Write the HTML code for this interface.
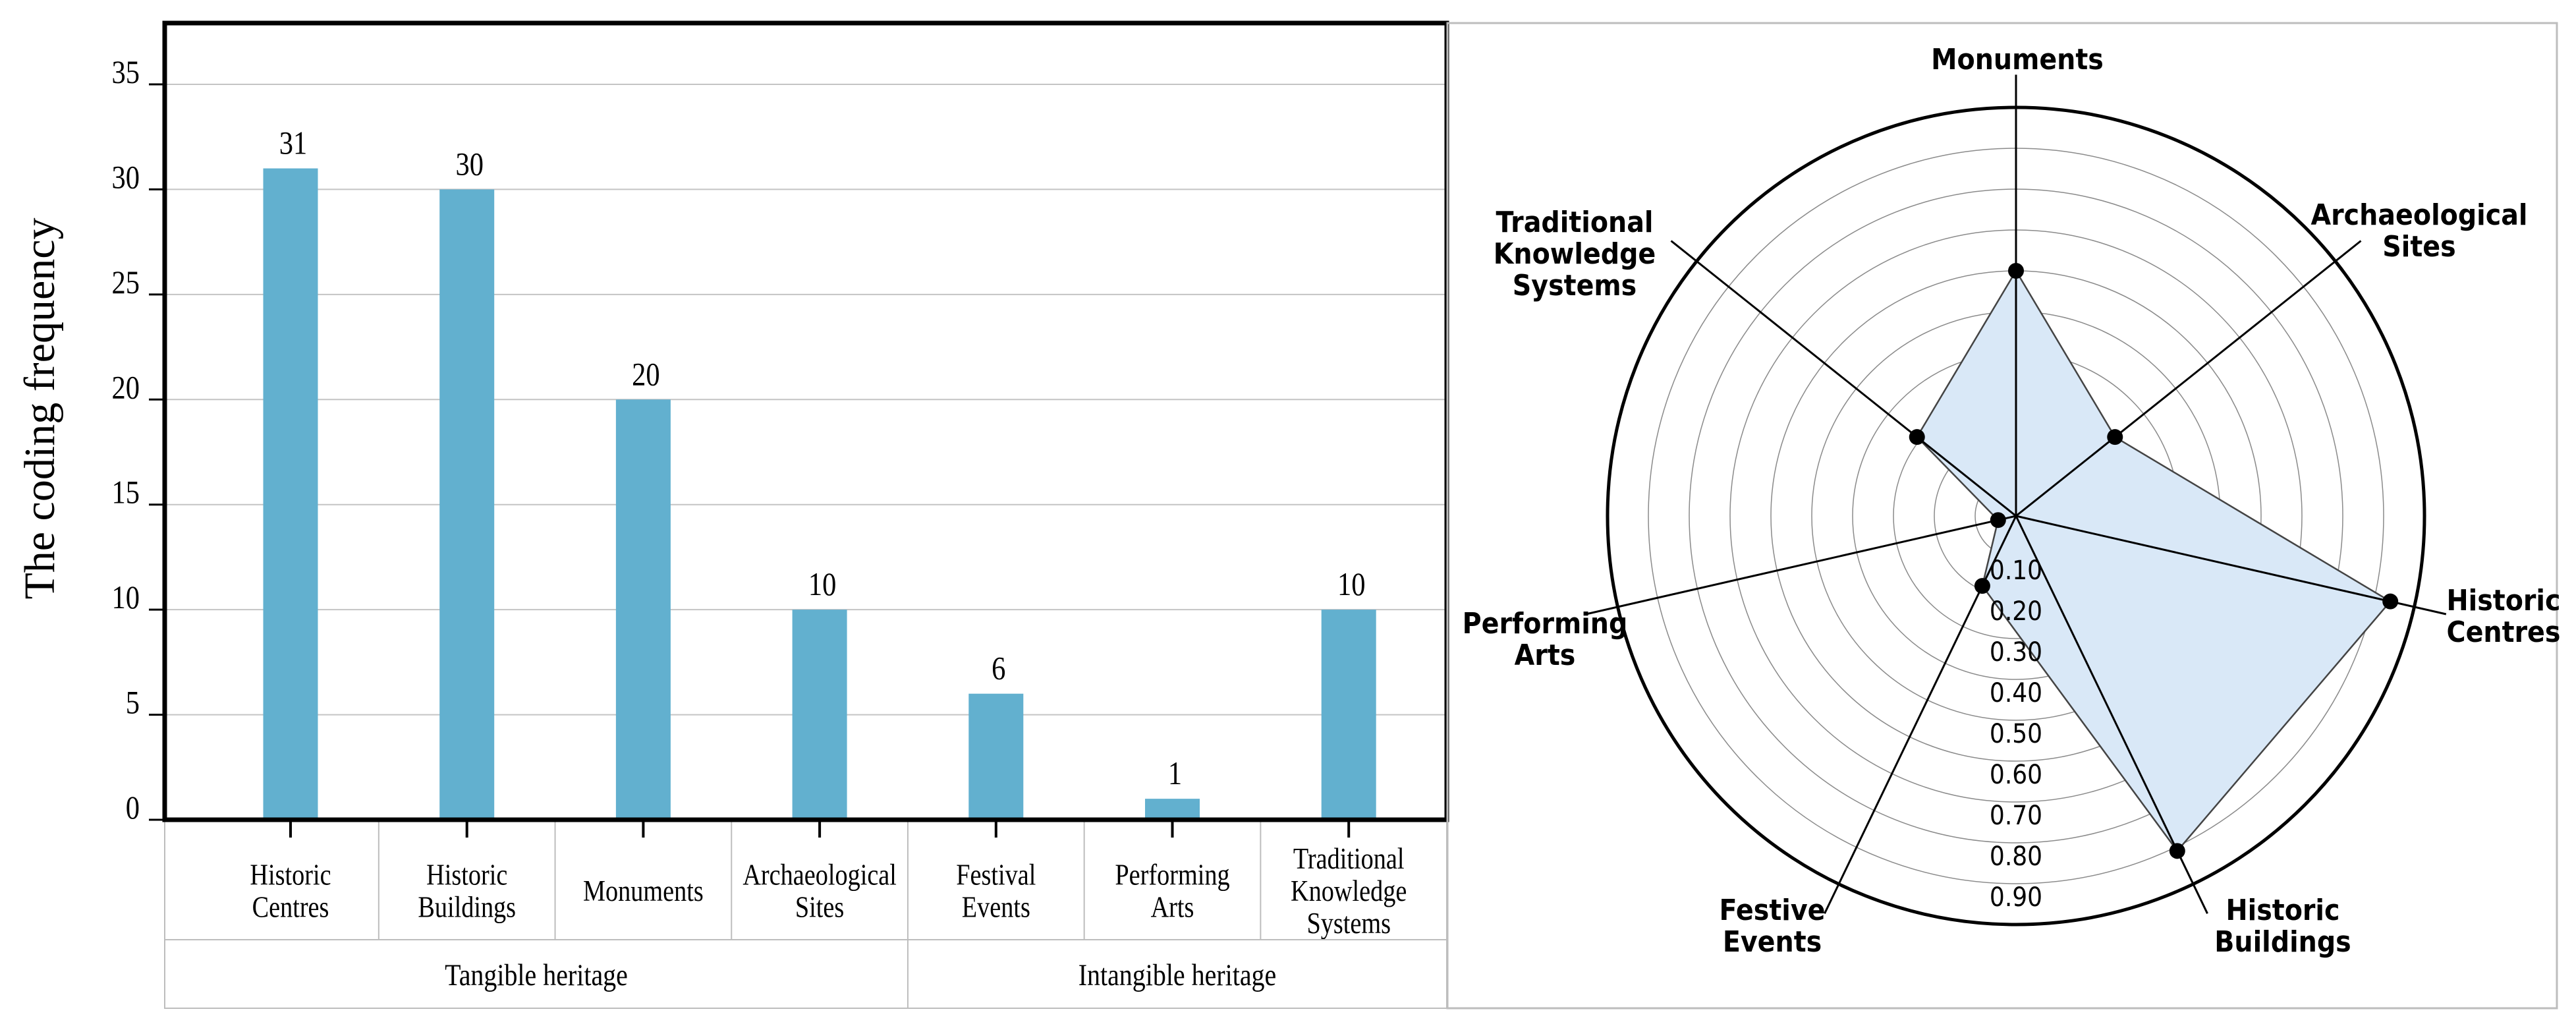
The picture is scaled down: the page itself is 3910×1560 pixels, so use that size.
<!DOCTYPE html>
<html><head><meta charset="utf-8"><style>
html,body{margin:0;padding:0;background:#fff;}
svg{display:block;}
.serif{font-family:"Liberation Serif",serif;}
.sans{font-family:"DejaVu Sans","Liberation Sans",sans-serif;}
</style></head><body>
<svg id="root" width="3910" height="1560" viewBox="0 0 3910 1560" xmlns="http://www.w3.org/2000/svg">
<rect x="0" y="0" width="3910" height="1560" fill="#fff"/>
<g id="bar"></g>
<g id="radar"></g>
</svg>
<script>
// ---- bar chart data ----
const barCategories = [["Historic","Centres"],["Historic","Buildings"],["Monuments"],["Archaeological","Sites"],["Festival","Events"],["Performing","Arts"],["Traditional","Knowledge","Systems"]];
const barValues = [31,30,20,10,6,1,10];
const yTicks = [0,5,10,15,20,25,30,35];
const groupLabels = ["Tangible heritage","Intangible heritage"];
const groupSizes = [4,3];
// ---- radar data ----
const radarAxes = [["Monuments"],["Archaeological","Sites"],["Historic","Centres"],["Historic","Buildings"],["Festive","Events"],["Performing","Arts"],["Traditional","Knowledge","Systems"]];
const radarValues = [0.60,0.31,0.94,0.91,0.19,0.045,0.31];
const radarTicks = [0.10,0.20,0.30,0.40,0.50,0.60,0.70,0.80,0.90];

const NS="http://www.w3.org/2000/svg";
function mk(tag,attrs,parent,text){const e=document.createElementNS(NS,tag);for(const k in attrs)e.setAttribute(k,attrs[k]);if(text!==undefined)e.textContent=text;parent.appendChild(e);return e;}
function ctext(px,py,anchor,size,str,parent,sx){return mk('text',{x:0,y:0,transform:'translate('+px+','+py+') scale('+(sx||0.85)+',1)','text-anchor':anchor,'font-size':size,class:'serif'},parent,str);}

// ---- bar chart ----
const bg=document.getElementById('bar');
const L=250,R=2196,T=35,B=1244,y0=1244,y35=128;
const y=v=>y0-(v/35)*(y0-y35);
const x0=441,step=267.7;
const x=i=>x0+i*step;
const bw=83;
yTicks.forEach(t=>{
  if(t>0){const g=mk('line',{x1:L,x2:R,y1:y(t),y2:y(t),stroke:'#c4c4c4','stroke-width':2},bg);
  
  }
  const tk=mk('line',{x1:226,x2:L,y1:y(t),y2:y(t),stroke:'#000','stroke-width':3},bg);
  
  
  const tl=ctext(212,y(t)-2,'end',50,String(t),bg);
  
  
});
barValues.forEach((v,i)=>{
  const r=mk('rect',{x:x(i)-bw/2,y:y(v),width:bw,height:y0-y(v),fill:'#62b0cf'},bg);
  
  
  const l=ctext(x(i)+4,y(v)-22,'middle',50,String(v),bg);
  
  
  const tk=mk('line',{x1:x(i),x2:x(i),y1:B,y2:B+27,stroke:'#000','stroke-width':4},bg);
  
  
  const n=barCategories[i].length;
  const cy=1352-(n-1)*24.5;
  barCategories[i].forEach((s,j)=>{
    const t=ctext(x(i),cy+j*49+15,'middle',45,s,bg);
    
    
  });
});
const tbl=mk('g',{stroke:'#bdbdbd','stroke-width':2,fill:'none'},bg);


mk('rect',{x:L,y:B,width:R-L,height:1530-B},tbl);
mk('line',{x1:L,x2:R,y1:1426,y2:1426},tbl);
for(let i=0;i<barValues.length-1;i++){mk('line',{x1:x(i)+step/2,x2:x(i)+step/2,y1:B,y2:1426},tbl);}
let acc=0;
groupSizes.forEach((gs,gi)=>{
  const start=gi===0?L:x(acc)-step/2;
  const end=(acc+gs>=barValues.length)?R:x(acc+gs)-step/2;
  if(gi>0) mk('line',{x1:start,x2:start,y1:1426,y2:1530},tbl);
  const t=ctext((start+end)/2,1495,'middle',47,groupLabels[gi],bg);
  
  
  acc+=gs;
});
const fr=mk('rect',{x:L,y:T,width:R-L,height:B-T,fill:'none',stroke:'#000','stroke-width':7},bg);


const yt=mk('text',{x:0,y:0,transform:'translate(82,620) rotate(-90)','text-anchor':'middle','font-size':66,class:'serif'},bg,'The coding frequency');



// ---- radar ----
const rg=document.getElementById('radar');
const box=mk('rect',{x:2197,y:35,width:3881-2197,height:1530-35,fill:'none',stroke:'#bdbdbd','stroke-width':3},rg);


const cx=3060,cy=783,RR=620;
const ang=i=>(90-i*360/radarAxes.length)*Math.PI/180;
const px=(i,r)=>cx+Math.cos(ang(i))*r*RR, py=(i,r)=>cy-Math.sin(ang(i))*r*RR;
radarTicks.forEach(t=>{
  const c=mk('circle',{cx:cx,cy:cy,r:t*RR,fill:'none',stroke:'#8a8a8a','stroke-width':1.5},rg);
  
  
});
const pts=radarValues.map((v,i)=>px(i,v)+','+py(i,v)).join(' ');
const poly=mk('polygon',{points:pts,fill:'#d9e8f7',stroke:'#444','stroke-width':2.5},rg);


radarAxes.forEach((a,i)=>{
  const ln=mk('line',{x1:cx,y1:cy,x2:px(i,1.08),y2:py(i,1.08),stroke:'#000','stroke-width':3},rg);
  
  
});
radarTicks.forEach(t=>{
  const tl=mk('text',{x:0,y:0,transform:'translate('+cx+','+(cy+t*RR+34)+') scale(0.9,1)','text-anchor':'middle','font-size':40,class:'sans'},rg,t.toFixed(2));
  
  
});
const outer=mk('circle',{cx:cx,cy:cy,r:RR,fill:'none',stroke:'#000','stroke-width':5},rg);


radarValues.forEach((v,i)=>{
  const d=mk('circle',{cx:px(i,v),cy:py(i,v),r:12,fill:'#000'},rg);
  
  
});
// label block centres (layout only)
const labelCentres=[[3062,90],[3672,350],[3800,935],[3465,1405],[2690,1405],[2345,970],[2390,385]];
radarAxes.forEach((a,i)=>{
  const lx=labelCentres[i][0], ly=labelCentres[i][1];
  const n=a.length;
  a.forEach((s,j)=>{
    const t=mk('text',{x:0,y:0,transform:'translate('+lx+','+(ly-(n-1)*24+j*48+15)+') scale(0.9,1)','text-anchor':'middle','font-size':44,'font-weight':'bold',class:'sans'},rg,s);
    
    
  });
});
</script>
</body></html>
